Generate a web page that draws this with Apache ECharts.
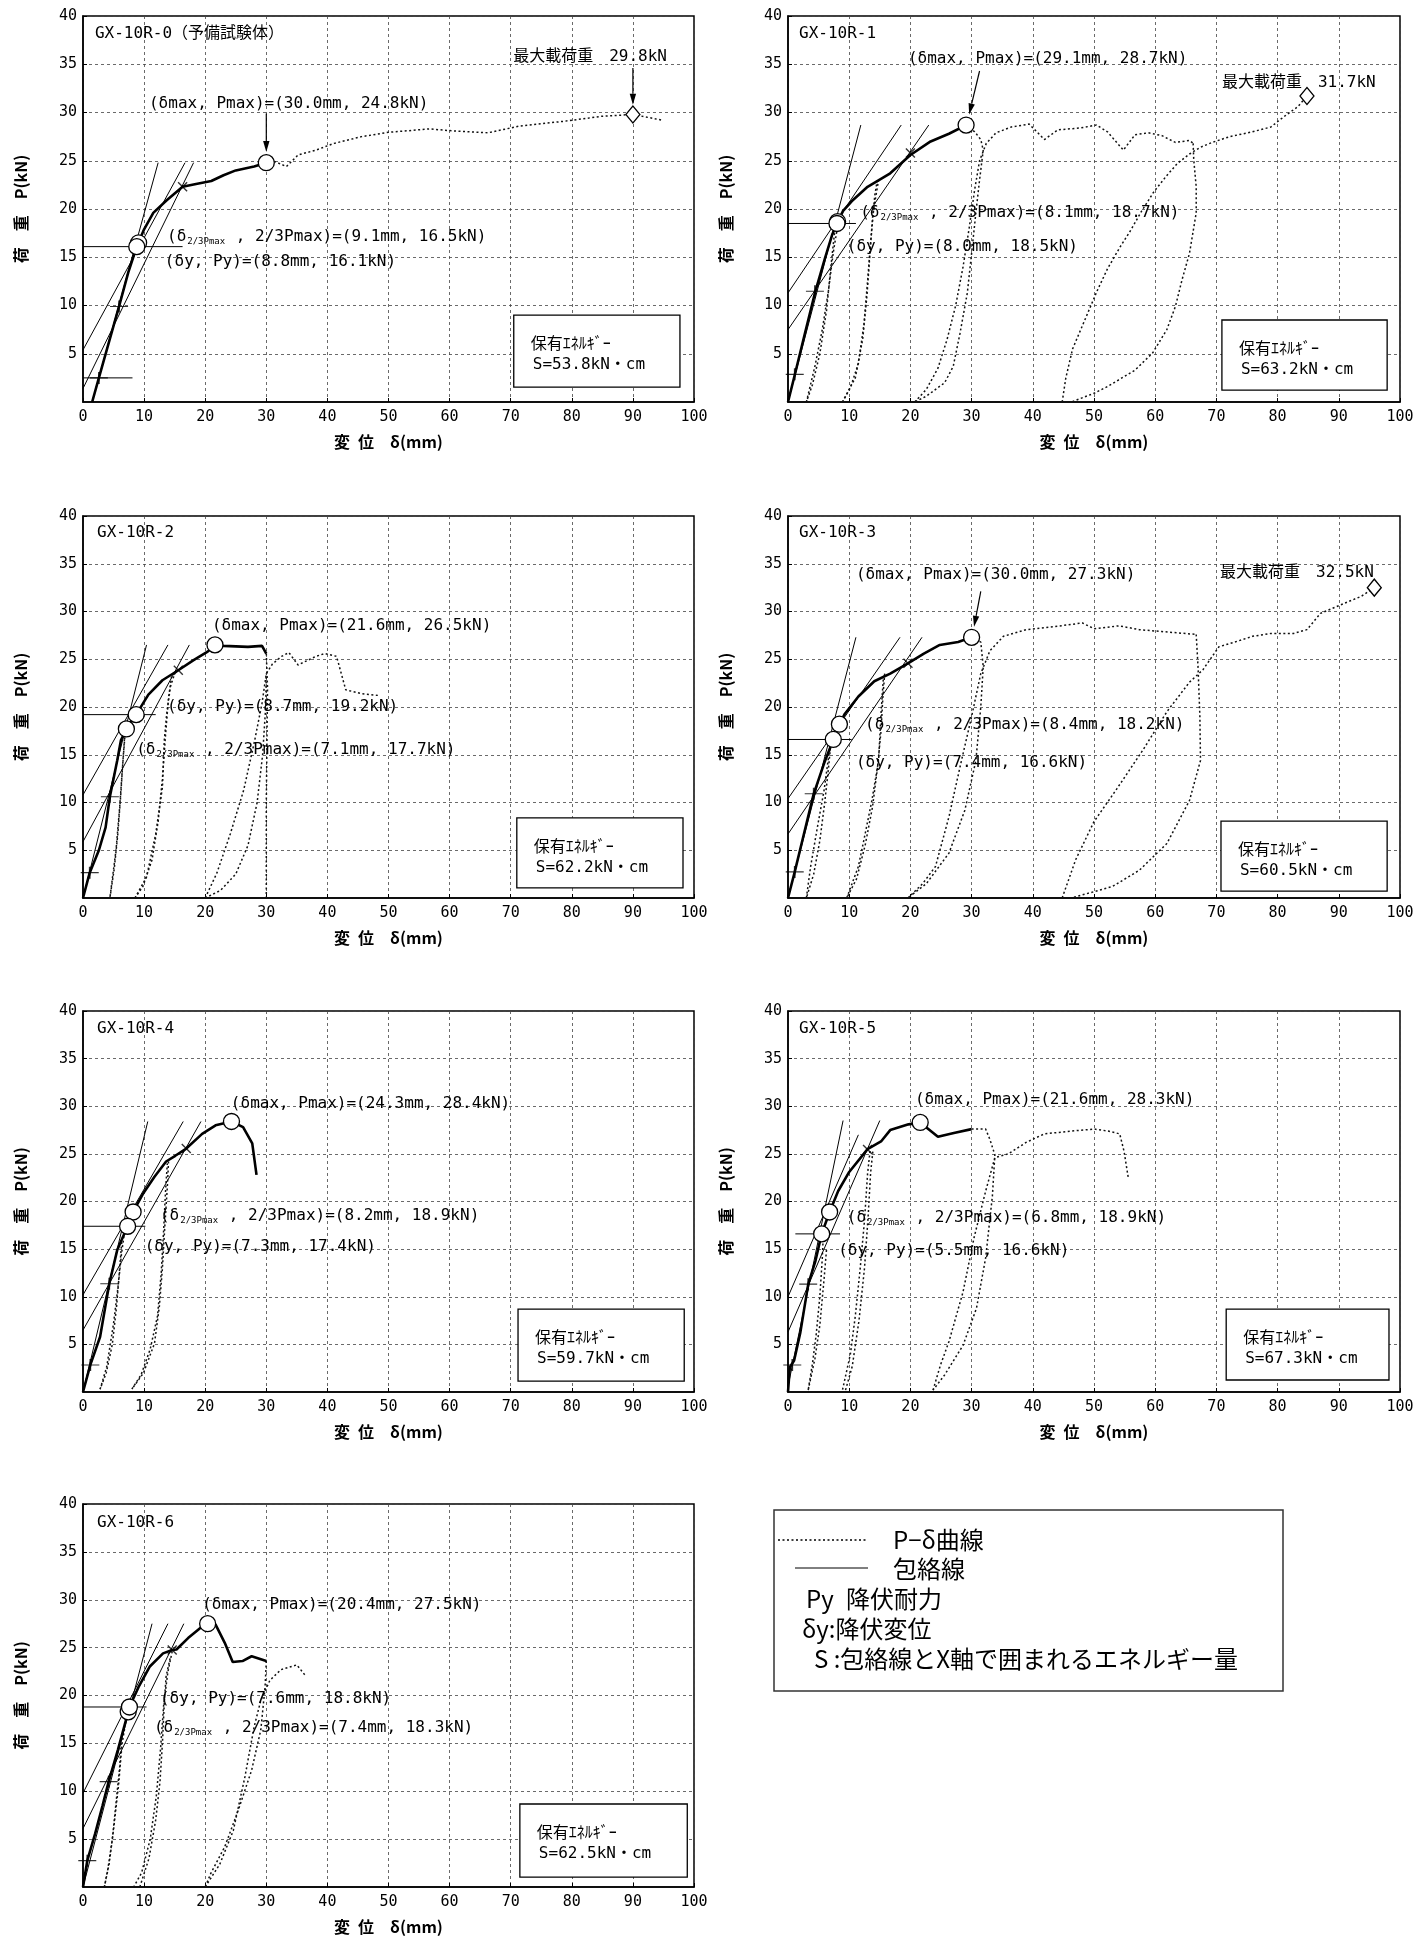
<!DOCTYPE html>
<html><head><meta charset="utf-8">
<script src="https://cdn.jsdelivr.net/npm/echarts@6/dist/echarts.min.js"></script>
<style>html,body{margin:0;padding:0;background:#fff}#c{width:1418px;height:1937px}</style>
</head><body><div id="c"></div>
<script>
// ---------------- DATA ----------------
const names = ['GX-10R-0（予備試験体）','GX-10R-1','GX-10R-2','GX-10R-3','GX-10R-4','GX-10R-5','GX-10R-6'];
const xMin = 0, xMax = 100, xStep = 10;
const yMin = 0, yMax = 40, yStep = 5;
const dMax = [[30.0,24.8],[29.1,28.7],[21.6,26.5],[30.0,27.3],[24.3,28.4],[21.6,28.3],[20.4,27.5]];
const d23  = [[9.1,16.5],[8.1,18.7],[7.1,17.7],[8.4,18.2],[8.2,18.9],[6.8,18.9],[7.4,18.3]];
const dY   = [[8.8,16.1],[8.0,18.5],[8.7,19.2],[7.4,16.6],[7.3,17.4],[5.5,16.6],[7.6,18.8]];
const energyS = [53.8,63.2,62.2,60.5,59.7,67.3,62.5];
const maxLoadPt = [[90.0,29.8],[84.8,31.7],null,[95.8,32.5],null,null,null];

// envelope curves (包絡線)
const env0 = [[1.5,0],[2.6,2.5],[4.2,6.1],[5.9,9.9],[7.4,13.4],[8.8,16.1],[10.0,17.9],[11.5,19.6],[13.7,20.9],[16.3,22.3],[18.5,22.6],[21.0,22.9],[23.0,23.5],[25.0,24.0],[28.0,24.4],[30.0,24.8]];
const env1 = [[0,0],[1.1,2.8],[2.8,7.2],[4.4,11.3],[6.0,14.8],[7.2,17.3],[8.0,18.5],[9.0,19.8],[10.4,20.8],[13.0,22.3],[16.7,23.7],[20.0,25.6],[23.3,27.0],[26.3,27.8],[29.1,28.7]];
const env2 = [[0,0],[1.1,2.65],[2.6,5.0],[3.7,7.4],[4.4,10.6],[5.6,14.4],[6.2,16.5],[7.1,17.7],[8.0,18.6],[8.7,19.2],[10.7,21.3],[13.0,22.8],[15.6,23.85],[18.1,24.9],[20.4,25.8],[21.6,26.5],[23.0,26.4],[27.0,26.3],[29.3,26.4],[30.0,25.6]];
const env3 = [[0,0],[1.1,2.73],[2.6,6.7],[4.2,10.9],[5.9,14.1],[7.4,16.6],[8.4,18.2],[9.3,19.3],[11.5,21.1],[14.1,22.7],[16.7,23.5],[19.6,24.57],[22.2,25.6],[24.8,26.5],[27.8,26.8],[30.0,27.3]];
const env4 = [[0,0],[1.2,2.84],[2.8,5.8],[4.3,11.36],[5.6,14.9],[7.3,17.4],[8.2,18.9],[9.9,20.9],[11.7,22.6],[13.6,24.2],[15.1,24.8],[16.9,25.56],[19.5,27.1],[21.7,28.0],[24.3,28.4],[26.2,27.8],[27.7,26.1],[28.4,22.8]];
const env5 = [[0,0],[0.3,2.6],[1.0,3.3],[2.0,6.2],[3.3,11.3],[4.5,13.8],[5.5,16.6],[6.8,18.9],[8.2,21.1],[10.0,23.1],[13.0,25.5],[15.2,26.3],[16.7,27.5],[19.7,28.1],[21.6,28.3],[24.5,26.8],[27.1,27.2],[30.0,27.6]];
const env6 = [[0,0],[0.7,2.75],[2.0,5.6],[3.2,8.5],[4.2,11.0],[5.7,14.3],[7.4,18.3],[7.6,18.8],[9.1,20.9],[10.9,23.0],[13.1,24.4],[14.6,24.75],[15.3,24.8],[17.2,26.0],[19.1,27.0],[20.4,27.5],[21.7,27.4],[23.2,25.5],[24.5,23.5],[26.1,23.6],[27.6,24.1],[30.0,23.6]];

// P-δ curves (dotted), list of segments
const pd0 = [
 [[30.0,24.8],[30.7,25.1],[33.3,24.4],[35.2,25.6],[38.1,26.1],[41.1,26.8],[45.6,27.5],[50.0,27.95],[53.0,28.1],[56.7,28.3],[60.4,28.1],[66.3,27.9],[71.5,28.6],[78.9,29.1],[84.8,29.6],[90.0,29.8],[94.8,29.2]]
];
const pd1 = [
 [[7.6,17.5],[7.0,14.0],[6.3,9.5],[5.2,5.0],[4.0,1.8],[3.0,0]],
 [[3.0,0],[4.4,3.7],[5.6,7.5],[6.6,11.5],[7.4,15.5],[8.2,18.6]],
 [[14.6,23.0],[14.2,21.5],[13.8,19.0],[13.4,15.5],[12.9,11.0],[12.2,6.5],[11.0,2.5],[8.9,0]],
 [[8.9,0],[10.2,1.5],[11.5,4.0],[12.4,8.0],[13.0,12.5],[13.5,16.5],[14.0,20.0],[14.8,23.0]],
 [[29.1,28.7],[30.5,28.0],[31.5,27.2],[31.9,26.1],[31.3,23.0],[30.7,19.6],[30.0,15.4],[29.3,11.3],[28.1,7.1],[27.0,3.7],[25.6,2.0],[22.6,0.6],[20.7,0]],
 [[20.7,0],[22.6,1.3],[24.5,3.5],[26.0,6.5],[27.4,10.0],[28.6,14.0],[29.6,18.0],[30.5,22.0],[31.3,25.0],[32.4,26.8],[34.0,27.9],[36.5,28.5],[39.4,28.8],[41.9,27.2],[44.1,28.2],[47.8,28.4],[50.4,28.7],[52.2,28.0],[54.8,26.1],[56.7,27.7],[58.9,27.9],[61.1,27.6],[63.3,26.9],[65.6,27.1],[66.2,26.8]],
 [[66.2,26.8],[66.3,25.1],[66.7,22.3],[66.7,19.6],[65.6,15.4],[64.4,12.7],[63.3,9.9],[61.9,7.5],[59.6,5.1],[56.7,3.3],[52.2,1.6],[50.0,0.9],[46.3,0]],
 [[44.8,0],[45.4,2.5],[46.5,5.5],[48.5,8.5],[50.5,11.5],[52.2,13.8],[54.2,16.0],[56.0,17.8],[57.8,19.8],[59.8,21.8],[61.8,23.4],[63.6,24.7],[65.6,25.7],[67.4,26.4],[69.3,26.9],[72.2,27.5],[75.9,28.0],[78.9,28.5],[81.1,29.6],[83.3,30.6],[84.8,31.7]]
];
const pd2 = [
 [[6.9,17.3],[6.5,14.0],[6.0,9.5],[5.4,5.0],[4.8,2.0],[4.4,0]],
 [[4.4,0],[5.1,3.0],[5.7,6.7],[6.2,11.0],[6.5,14.0],[6.8,16.8]],
 [[14.5,23.2],[14.0,21.0],[13.5,17.0],[13.0,12.5],[12.3,8.0],[11.3,4.0],[9.8,1.2],[8.5,0]],
 [[8.5,0],[10.4,2.2],[11.9,6.7],[13.0,11.6],[13.3,16.5],[13.7,19.3],[14.3,22.1],[15.0,23.5]],
 [[20.0,0],[21.9,2.6],[24.1,6.7],[26.3,11.3],[28.1,16.5],[29.3,20.4],[30.0,23.5],[31.0,24.5],[32.5,25.3],[33.7,25.7],[35.2,24.4],[38.1,25.3],[39.6,25.6],[41.5,25.3],[43.0,21.8],[45.6,21.4],[48.5,21.2]],
 [[20.0,0],[22.5,0.8],[25.0,2.5],[27.0,5.5],[28.5,10.0],[29.4,15.0],[29.9,20.0],[30.0,23.5]],
 [[30.0,25.6],[30.2,22.0],[30.1,16.0],[30.0,10.0],[30.0,4.0],[30.0,0]]
];
const pd3 = [
 [[7.0,16.2],[6.6,13.5],[6.0,10.0],[5.2,6.0],[4.2,2.5],[3.0,0]],
 [[3.0,0],[3.7,3.3],[4.8,7.4],[5.9,11.3],[6.7,15.1],[7.3,16.6]],
 [[15.8,23.5],[15.5,21.0],[15.2,17.5],[14.6,13.5],[13.8,9.5],[12.6,5.5],[11.2,2.0],[9.6,0]],
 [[9.6,0],[11.5,3.3],[12.6,6.7],[13.7,10.2],[14.8,14.4],[15.2,19.3],[15.6,23.2],[16.2,23.4]],
 [[30.0,27.3],[31.5,26.8],[31.9,24.2],[31.5,20.0],[30.7,14.4],[28.9,9.2],[26.3,4.7],[22.6,1.5],[19.6,0]],
 [[19.6,0],[22.0,1.5],[24.1,3.3],[26.3,8.5],[28.1,13.7],[30.0,19.0],[31.5,23.5],[33.0,25.9],[35.2,27.4],[38.9,28.1],[43.3,28.4],[48.1,28.8],[50.0,28.2],[54.1,28.5],[57.4,28.1],[61.1,27.9],[66.7,27.6]],
 [[66.7,27.6],[67.0,24.2],[67.3,19.0],[67.4,14.4],[65.6,10.2],[61.9,5.7],[57.4,2.9],[53.0,1.2],[46.3,0]],
 [[44.8,0],[47.0,4.0],[50.0,8.0],[53.7,11.4],[58.1,15.6],[61.9,19.5],[65.6,22.6],[67.8,23.9],[70.4,26.3],[73.0,26.8],[75.9,27.4],[78.9,27.7],[82.6,27.7],[84.8,28.1],[87.0,29.8],[90.7,30.8],[93.7,31.6],[95.8,32.5]]
];
const pd4 = [
 [[6.4,16.2],[6.0,13.0],[5.5,9.0],[4.8,5.0],[3.8,2.0],[2.8,0.3]],
 [[2.8,0.3],[3.9,2.7],[5.0,7.2],[5.8,11.4],[6.3,14.5],[6.8,16.8]],
 [[14.0,24.2],[13.8,21.5],[13.4,17.5],[13.0,13.0],[12.5,9.0],[11.7,5.1],[9.9,2.0],[8.0,0.3]],
 [[8.0,0.3],[9.5,1.8],[11.0,4.5],[12.2,8.0],[12.8,12.5],[13.2,17.0],[13.5,21.0],[13.8,24.0]]
];
const pd5 = [
 [[5.8,17.0],[5.6,14.0],[5.2,10.0],[4.6,6.0],[4.0,3.0],[3.3,0.2]],
 [[3.3,0.2],[4.4,3.5],[5.2,7.0],[5.9,11.9],[6.3,15.0]],
 [[13.4,25.3],[13.0,22.9],[12.5,18.0],[11.8,13.0],[11.0,8.0],[10.2,4.0],[8.9,0.2]],
 [[9.4,0.2],[10.5,2.7],[11.6,7.5],[12.5,13.0],[13.1,18.5],[13.5,23.0],[13.9,25.5]],
 [[30.0,27.6],[32.3,27.6],[33.0,26.5],[33.8,24.9],[33.4,20.6],[32.3,14.1],[30.8,8.8],[28.6,4.9],[25.6,1.8],[23.7,0.2]],
 [[23.7,0.2],[24.9,2.8],[26.3,5.3],[28.6,10.5],[30.4,16.2],[32.3,21.1],[33.8,24.6],[36.0,25.0],[38.9,26.2],[41.9,27.1],[46.4,27.4],[50.1,27.6],[52.3,27.4],[54.2,27.1],[54.9,25.3],[55.6,22.5]]
];
const pd6 = [
 [[6.3,15.5],[6.0,12.5],[5.5,9.4],[4.8,5.0],[4.1,2.0],[3.5,0]],
 [[3.5,0],[4.3,2.5],[5.0,6.0],[5.8,10.5],[6.4,15.0],[6.8,16.5]],
 [[14.6,24.6],[13.9,22.5],[13.2,19.0],[12.7,14.5],[12.0,9.5],[11.0,5.0],[9.6,1.5],[8.3,0]],
 [[9.3,0],[10.8,3.0],[11.9,7.0],[12.6,11.0],[13.0,15.0],[13.3,19.2],[13.6,22.0],[14.3,24.0]],
 [[30.0,23.6],[29.8,20.9],[29.1,16.4],[27.6,12.2],[25.4,8.0],[23.2,4.2],[20.9,1.4],[20.0,0]],
 [[20.0,0],[22.4,2.4],[24.6,5.9],[26.5,11.5],[28.0,16.7],[29.1,19.5],[30.6,21.6],[32.4,22.7],[35.0,23.2],[36.5,22.0]]
];

// construction lines (thin solid): tangent lines I, II, III and horizontal lines
const tan0 = [[[1.5,0],[12.3,24.8]],[[0,1.4],[18.1,24.8]],[[0,5.4],[16.7,24.8]],[[0,16.1],[16.3,16.1]],[[0,2.5],[8.1,2.5]]];
const tan1 = [[[0,0],[11.9,28.7]],[[0,7.5],[23.0,28.7]],[[0,11.3],[18.5,28.7]],[[0,18.5],[11.1,18.5]]];
const tan2 = [[[0,0],[10.4,26.5]],[[0,5.9],[17.4,26.5]],[[0,10.8],[13.9,26.5]],[[0,19.2],[11.9,19.2]]];
const tan3 = [[[0,0],[11.1,27.3]],[[0,6.7],[21.9,27.3]],[[0,10.4],[18.3,27.3]],[[0,16.6],[10.4,16.6]]];
const tan4 = [[[0,0],[10.6,28.4]],[[0,6.5],[19.3,28.4]],[[0,10.2],[16.4,28.4]],[[0,17.4],[10.2,17.4]]];
const tan5 = [[[0,0.6],[9.0,28.5]],[[0,6.3],[15.0,28.5]],[[0,10.0],[11.5,27.0]],[[1.2,16.6],[8.5,16.6]]];
const tan6 = [[[0,0],[11.3,27.5]],[[0,6.1],[16.5,27.5]],[[0,9.8],[13.9,27.5]],[[0,18.8],[10.4,18.8]]];

// 0.1Pmax / 0.4Pmax points (+) and 0.9Pmax point (x)
const plusPts  = [[[2.6,2.5],[5.9,9.9]],[[1.1,2.87],[4.4,11.48]],[[1.1,2.65],[4.4,10.6]],[[1.1,2.73],[4.2,10.92]],[[1.2,2.84],[4.3,11.36]],[[0.7,2.83],[3.3,11.32]],[[0.7,2.75],[4.2,11.0]]];
const crossPts = [[16.3,22.3],[20.0,25.8],[15.6,23.85],[19.6,24.57],[16.9,25.56],[13.0,25.47],[14.6,24.75]];

const envs = [env0,env1,env2,env3,env4,env5,env6];
const pds = [pd0,pd1,pd2,pd3,pd4,pd5,pd6];
const tans = [tan0,tan1,tan2,tan3,tan4,tan5,tan6];

// ---------------- LAYOUT ----------------
const GRIDS = [[83,16,611,386],[788,16,612,386],[83,516,611,382],[788,516,612,382],[83,1011,611,381],[788,1011,612,381],[83,1504,611,383]];
// annotation anchors (data coordinates of the text's left-middle)
const LBL = [
 {title:[1.96,38.2], dmax:[10.8,30.9], d23:[13.75,17.1], dy:[13.4,14.5], max:[70.4,35.75], box:[70.5,9.0,97.7,1.55], arMax:[[30,29.9],[30,25.9]], arLoad:[[90,34.6],[90,30.8]]},
 {title:[1.8,38.2], dmax:[19.6,35.6], d23:[11.8,19.6], dy:[9.6,16.06], max:[70.9,33.06], box:[70.9,8.5,97.9,1.24], arMax:[[31.3,34.3],[29.6,29.8]]},
 {title:[2.3,38.2], dmax:[21.1,28.5], dy:[13.75,20.0], d23:[8.7,15.5], box:[71.0,8.4,98.2,1.05]},
 {title:[1.8,38.2], dmax:[11.1,33.8], d23:[12.6,18.1], dy:[11.1,14.2], max:[70.6,34.1], box:[70.75,8.06,97.9,0.73], arMax:[[31.5,32.1],[30.4,28.4]]},
 {title:[2.3,38.1], dmax:[24.2,30.3], d23:[12.6,18.5], dy:[10.1,15.2], box:[71.2,8.7,98.4,1.15]},
 {title:[1.8,38.1], dmax:[20.75,30.65], d23:[9.6,18.3], dy:[8.2,14.8], box:[71.6,8.7,98.2,1.26]},
 {title:[2.3,38.0], dmax:[19.5,29.45], dy:[12.6,19.7], d23:[11.6,16.6], box:[71.5,8.67,98.9,1.04]}
];
const MONO = "'DejaVu Sans Mono','Noto Sans CJK JP',monospace";
const CJK = "'Noto Sans CJK JP','Noto Sans CJK SC',sans-serif";

const chart = echarts.init(document.getElementById('c'), null, {renderer:'canvas', width:1418, height:1937});
const grid=[], xAxis=[], yAxis=[], series=[];
GRIDS.forEach((g,i)=>{
  grid.push({left:g[0], top:g[1], width:g[2], height:g[3], show:true, borderColor:'#000', borderWidth:1.5, containLabel:false});
  xAxis.push({type:'value', gridIndex:i, min:xMin, max:xMax, interval:xStep,
    name:'変\u2002位\u2003δ(mm)', nameLocation:'middle', nameGap:32,
    nameTextStyle:{fontFamily:CJK, fontSize:16, fontWeight:'bold', color:'#000'},
    axisLine:{lineStyle:{color:'#000', width:1.5}},
    axisTick:{show:true, inside:true, length:4, lineStyle:{color:'#000'}},
    axisLabel:{fontFamily:MONO, fontSize:15, color:'#000', margin:8},
    splitLine:{show:true, lineStyle:{color:'#444', width:0.8, type:[3,3]}}});
  yAxis.push({type:'value', gridIndex:i, min:yMin, max:yMax, interval:yStep,
    name:'荷\u2003重\u2003P(kN)', nameLocation:'middle', nameGap:54,
    nameTextStyle:{fontFamily:CJK, fontSize:16, fontWeight:'bold', color:'#000'},
    axisLine:{lineStyle:{color:'#000', width:1.5}},
    axisTick:{show:true, inside:true, length:4, lineStyle:{color:'#000'}},
    axisLabel:{fontFamily:MONO, fontSize:15, color:'#000', margin:6, showMinLabel:false},
    splitLine:{show:true, lineStyle:{color:'#444', width:0.8, type:[3,3]}}});
  const base = {xAxisIndex:i, yAxisIndex:i, silent:true, animation:false};
  pds[i].forEach(seg=>series.push(Object.assign({type:'line', data:seg, symbol:'none', z:3,
     lineStyle:{color:'#111', width:1.5, type:[2,2.5]}}, base)));
  tans[i].forEach(seg=>series.push(Object.assign({type:'line', data:seg, symbol:'none', z:3,
     lineStyle:{color:'#000', width:1}}, base)));
  series.push(Object.assign({type:'line', data:envs[i], symbol:'none', z:4, lineStyle:{color:'#000', width:2.6}}, base));
  series.push(Object.assign({type:'scatter', data:plusPts[i], symbol:'path://M0,5L10,5M5,0L5,10', symbolSize:[18,12], z:5,
     itemStyle:{color:'none', borderColor:'#000', borderWidth:1.4}}, base));
  series.push(Object.assign({type:'scatter', data:[crossPts[i]], symbol:'path://M0,0L10,10M10,0L0,10', symbolSize:9, z:5,
     itemStyle:{color:'none', borderColor:'#000', borderWidth:1.4}}, base));
  series.push(Object.assign({type:'scatter', data:[d23[i], dY[i], dMax[i]], symbol:'circle', symbolSize:16, z:6,
     itemStyle:{color:'#fff', borderColor:'#000', borderWidth:1.3, opacity:1}}, base));
  if (maxLoadPt[i]) series.push(Object.assign({type:'scatter', data:[maxLoadPt[i]], symbol:'diamond', symbolSize:[14,17], z:6,
     itemStyle:{color:'#fff', borderColor:'#000', borderWidth:1.3, opacity:1}}, base));
});
chart.setOption({animation:false, backgroundColor:'#fff', grid, xAxis, yAxis, series});

// ---------------- ANNOTATIONS ----------------
const G = [];
const P = (i,pt)=>chart.convertToPixel({xAxisIndex:i, yAxisIndex:i}, pt);
const f1 = v=>v.toFixed(1);
function txt(x,y,text,size,family,extra){
  G.push({type:'text', x, y, z:100, style:Object.assign({text, fontSize:size, fontFamily:family, fill:'#000', align:'left', verticalAlign:'middle'}, extra||{})});
}
function arrow(p1,p2){
  const dx=p2[0]-p1[0], dy=p2[1]-p1[1], L=Math.hypot(dx,dy), ux=dx/L, uy=dy/L, hl=11, hw=3.2;
  const bx=p2[0]-ux*hl, by=p2[1]-uy*hl;
  G.push({type:'line', z:100, shape:{x1:p1[0],y1:p1[1],x2:bx,y2:by}, style:{stroke:'#000', lineWidth:1.2}});
  G.push({type:'polygon', z:100, shape:{points:[[p2[0],p2[1]],[bx-uy*hw,by+ux*hw],[bx+uy*hw,by-ux*hw]]}, style:{fill:'#000'}});
}
const subRich = {s:{fontSize:9, fontFamily:MONO, padding:[9,1,0,1]}};
LBL.forEach((L,i)=>{
  let p = P(i,L.title); txt(p[0],p[1],names[i],16,MONO);
  p = P(i,L.dmax); txt(p[0],p[1],`(δmax, Pmax)=(${f1(dMax[i][0])}mm, ${f1(dMax[i][1])}kN)`,16,MONO);
  p = P(i,L.d23); txt(p[0],p[1],`(δ{s|2/3Pmax} , 2/3Pmax)=(${f1(d23[i][0])}mm, ${f1(d23[i][1])}kN)`,16,MONO,{rich:subRich});
  p = P(i,L.dy); txt(p[0],p[1],`(δy, Py)=(${f1(dY[i][0])}mm, ${f1(dY[i][1])}kN)`,16,MONO);
  if (L.max && maxLoadPt[i]) { p = P(i,L.max); txt(p[0],p[1],`最大載荷重　${f1(maxLoadPt[i][1])}kN`,16,MONO); }
  if (L.arMax) arrow(P(i,L.arMax[0]), P(i,L.arMax[1]));
  if (L.arLoad) arrow(P(i,L.arLoad[0]), P(i,L.arLoad[1]));
  const a = P(i,[L.box[0],L.box[1]]), b = P(i,[L.box[2],L.box[3]]);
  G.push({type:'rect', z:99, shape:{x:a[0], y:a[1], width:b[0]-a[0], height:b[1]-a[1]}, style:{fill:'#fff', stroke:'#000', lineWidth:1.3}});
  txt(a[0]+17, a[1]+28, '保有ｴﾈﾙｷﾞｰ', 16, CJK);
  txt(a[0]+19, a[1]+50, `S=${f1(energyS[i])}kN・cm`, 16, MONO);
});

// legend box
G.push({type:'rect', z:99, shape:{x:774, y:1510, width:509, height:181}, style:{fill:'#fff', stroke:'#333', lineWidth:1.5}});
G.push({type:'line', z:100, shape:{x1:778,y1:1540,x2:868,y2:1540}, style:{stroke:'#000', lineWidth:1.5, lineDash:[2,2.5]}});
G.push({type:'line', z:100, shape:{x1:795,y1:1568,x2:868,y2:1568}, style:{stroke:'#000', lineWidth:1}});
txt(893,1540,'P−δ曲線',24,CJK);
txt(893,1569,'包絡線',24,CJK);
txt(806,1599,'Py',24,CJK);
txt(846,1599,'降伏耐力',24,CJK);
txt(802,1629,'δy:降伏変位',24,CJK);
txt(814,1659,'S :包絡線とX軸で囲まれるエネルギー量',24,CJK);

chart.setOption({graphic:G});
</script></body></html>
